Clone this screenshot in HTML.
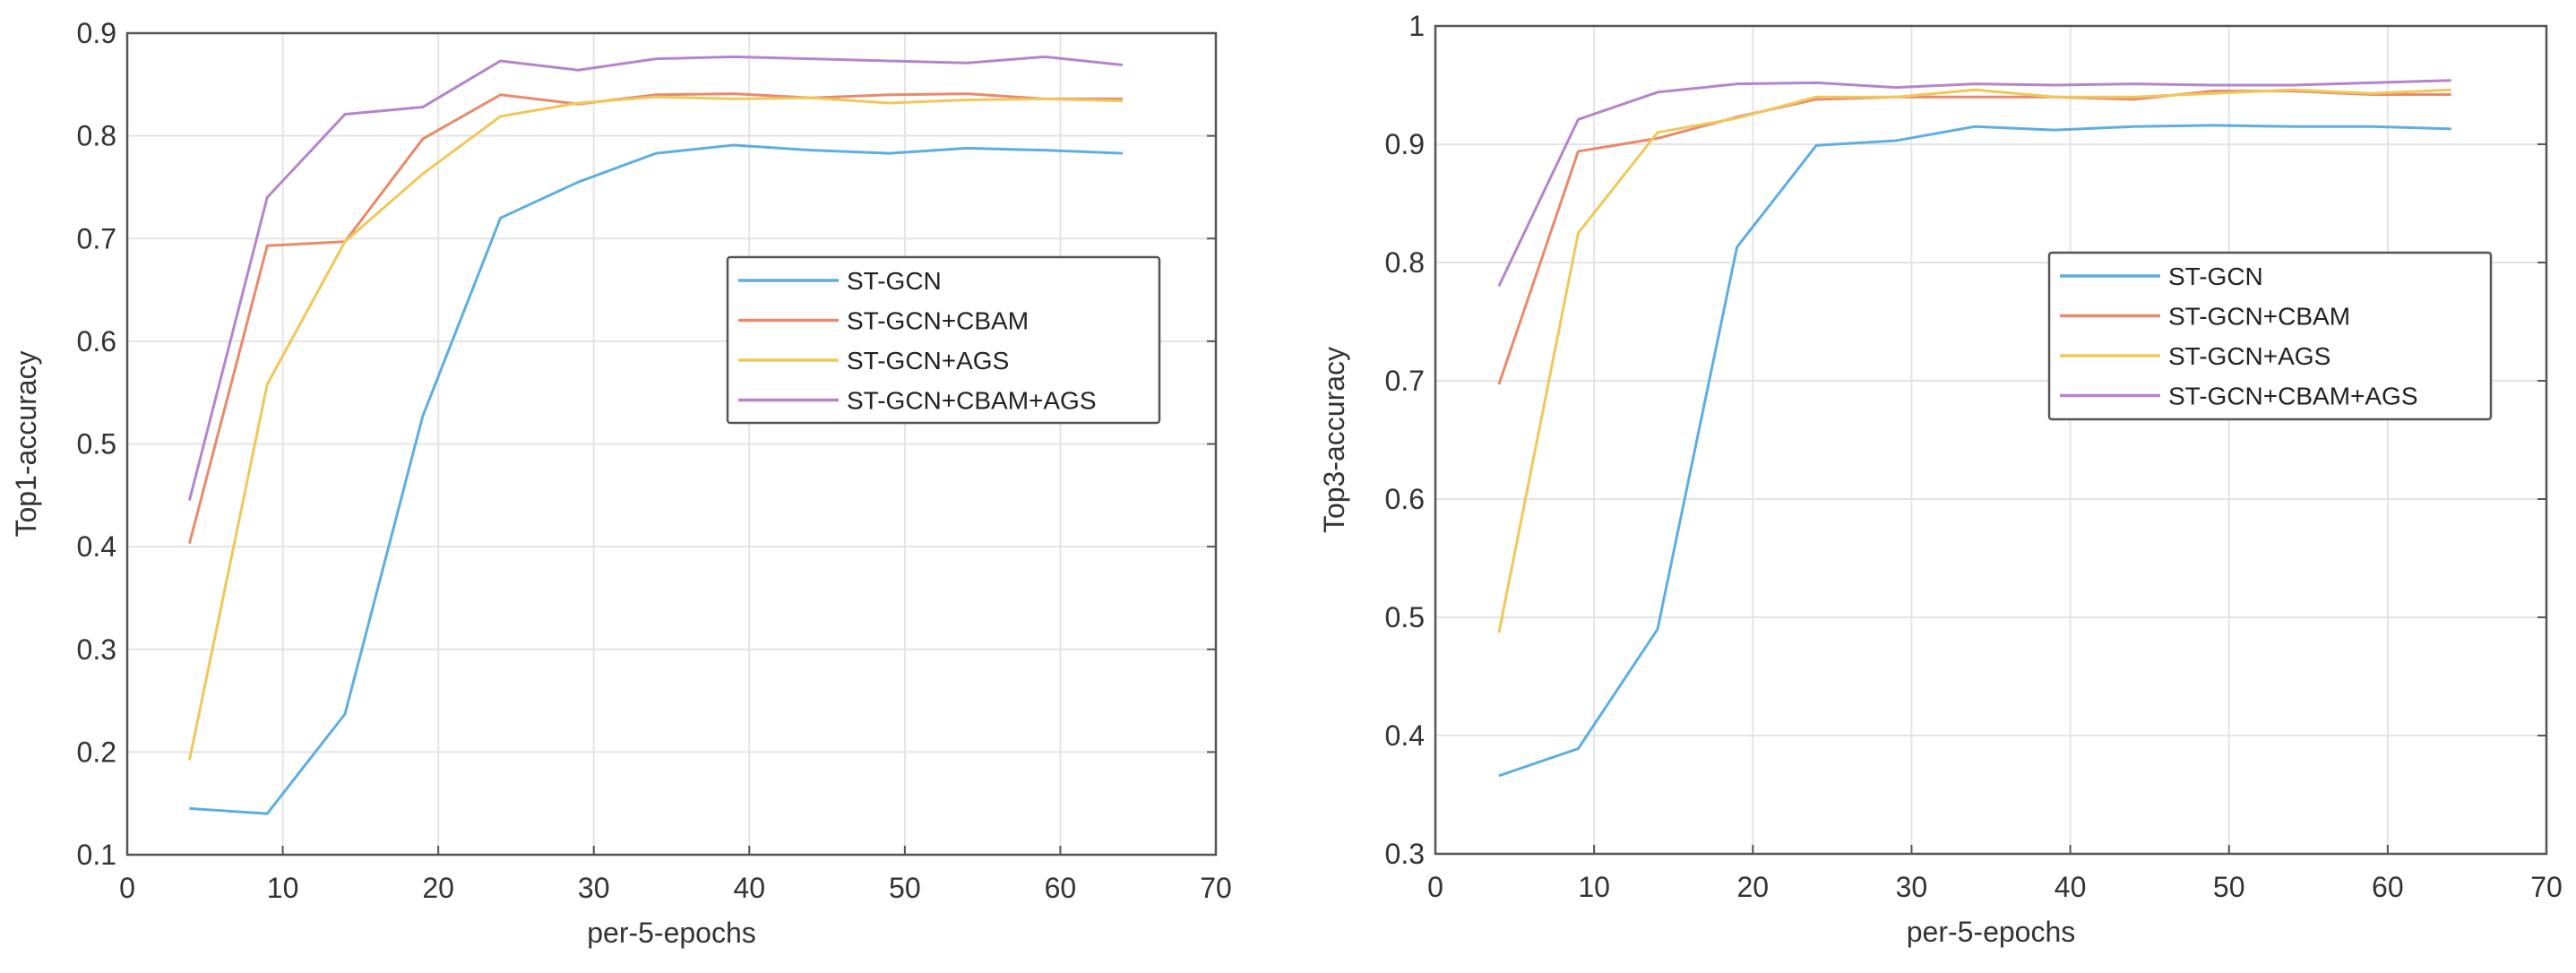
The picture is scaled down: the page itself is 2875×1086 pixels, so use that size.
<!DOCTYPE html>
<html><head><meta charset="utf-8"><style>
html,body{margin:0;padding:0;background:#fff;}
svg{display:block;font-family:"Liberation Sans",Arial,sans-serif;}
</style></head><body>
<svg id="fig" width="2875" height="1086" viewBox="0 0 2875 1086" xmlns="http://www.w3.org/2000/svg"></svg>
<script>
const xs = [4,9,14,19,24,29,34,39,44,49,54,59,64];
const seriesNames = ["ST-GCN","ST-GCN+CBAM","ST-GCN+AGS","ST-GCN+CBAM+AGS"];
const seriesColors = ["#5eaee0","#e98a6c","#f0c85a","#b585cc"];
const top1Base = [.145,.140,.237,.527,.720,.755,.783,.791,.786,.783,.788,.786,.783];
const top1Cbam = [.403,.693,.697,.797,.840,.831,.840,.841,.837,.840,.841,.836,.836];
const top1Ags = [.192,.558,.697,.763,.819,.832,.838,.836,.837,.832,.835,.836,.834];
const top1Both = [.445,.740,.821,.828,.873,.864,.875,.877,.875,.873,.871,.877,.869];
const top3Base = [.366,.389,.490,.813,.899,.903,.915,.912,.915,.916,.915,.915,.913];
const top3Cbam = [.697,.894,.905,.923,.938,.940,.940,.940,.938,.945,.945,.942,.942];
const top3Ags = [.487,.825,.910,.922,.940,.940,.946,.940,.940,.943,.946,.943,.946];
const top3Both = [.780,.921,.944,.951,.952,.948,.951,.950,.951,.950,.950,.952,.954];
const xTicks = [0,10,20,30,40,50,60,70];
const top1Ticks = [0.1,0.2,0.3,0.4,0.5,0.6,0.7,0.8,0.9];
const top3Ticks = [0.3,0.4,0.5,0.6,0.7,0.8,0.9,1];

const NS="http://www.w3.org/2000/svg";
const svg=document.getElementById('fig');
function mk(tag,attrs,parent){const e=document.createElementNS(NS,tag);for(const k in attrs)e.setAttribute(k,attrs[k]);(parent||svg).appendChild(e);return e;}

function chart(cfg){
  const g=mk('g',{});
  
  
  const {L,R,T,B,ymin,ymax,yticks}=cfg;
  const X=v=>L+(v-0)/(70-0)*(R-L);
  const Y=v=>B-(v-ymin)/(ymax-ymin)*(B-T);
  xTicks.forEach(t=>{
    const l=mk('line',{x1:X(t),x2:X(t),y1:T,y2:B,stroke:'#e4e4e4','stroke-width':2},g);
    
    
    const tk=mk('line',{x1:X(t),x2:X(t),y1:B,y2:B-10,stroke:'#555','stroke-width':2},g);
    
    
    const tx=mk('text',{x:X(t),y:B+48,'font-size':32,fill:'#333','text-anchor':'middle'},g);
    tx.textContent=t;
    
    
  });
  yticks.forEach(t=>{
    const l=mk('line',{x1:L,x2:R,y1:Y(t),y2:Y(t),stroke:'#e4e4e4','stroke-width':2},g);
    
    
    const tk=mk('line',{x1:R,x2:R-10,y1:Y(t),y2:Y(t),stroke:'#555','stroke-width':2},g);
    
    
    const tx=mk('text',{x:L-12,y:Y(t)+11,'font-size':32,fill:'#333','text-anchor':'end'},g);
    tx.textContent=t;
    
    
  });
  const box=mk('rect',{x:L,y:T,width:R-L,height:B-T,fill:'none',stroke:'#555','stroke-width':2.5},g);
  
  
  cfg.series.forEach((s,i)=>{
    const p=mk('polyline',{points:s.map((v,j)=>X(xs[j])+','+Y(v)).join(' '),fill:'none',stroke:seriesColors[i],'stroke-width':3,'stroke-linejoin':'round'},g);
    
    
  });
  const xl=mk('text',{x:(L+R)/2,y:B+98,'font-size':32,fill:'#333','text-anchor':'middle'},g);
  xl.textContent='per-5-epochs';
  
  
  const yl=mk('text',{x:0,y:0,'font-size':32,fill:'#333','text-anchor':'middle',transform:`translate(${cfg.ylx},${(T+B)/2}) rotate(-90)`},g);
  yl.textContent=cfg.ylabel;
  
  
  const lg=mk('g',{},g);
  
  
  const lb=cfg.legend;
  mk('rect',{x:lb.x,y:lb.y,width:lb.w,height:lb.h,fill:'#fff',stroke:'#555','stroke-width':2.5,rx:3},lg);
  seriesNames.forEach((n,i)=>{
    const ey=lb.y+26+i*44.5;
    const e=mk('g',{},lg);
    
    
    mk('line',{x1:lb.x+12,x2:lb.x+124,y1:ey,y2:ey,stroke:seriesColors[i],'stroke-width':3.5},e);
    const t=mk('text',{x:lb.x+133,y:ey+10,'font-size':28,fill:'#222'},e);
    t.textContent=n;
  });
}
chart({name:'top1-chart',L:142,R:1357,T:37,B:954,ymin:0.1,ymax:0.9,yticks:top1Ticks,ylabel:'Top1-accuracy',ylx:40,
  series:[top1Base,top1Cbam,top1Ags,top1Both],legend:{x:812,y:287,w:482,h:185}});
chart({name:'top3-chart',L:1602,R:2842,T:29,B:953,ymin:0.3,ymax:1,yticks:top3Ticks,ylabel:'Top3-accuracy',ylx:1500,
  series:[top3Base,top3Cbam,top3Ags,top3Both],legend:{x:2287,y:282,w:493,h:186}});
</script>
</body></html>
